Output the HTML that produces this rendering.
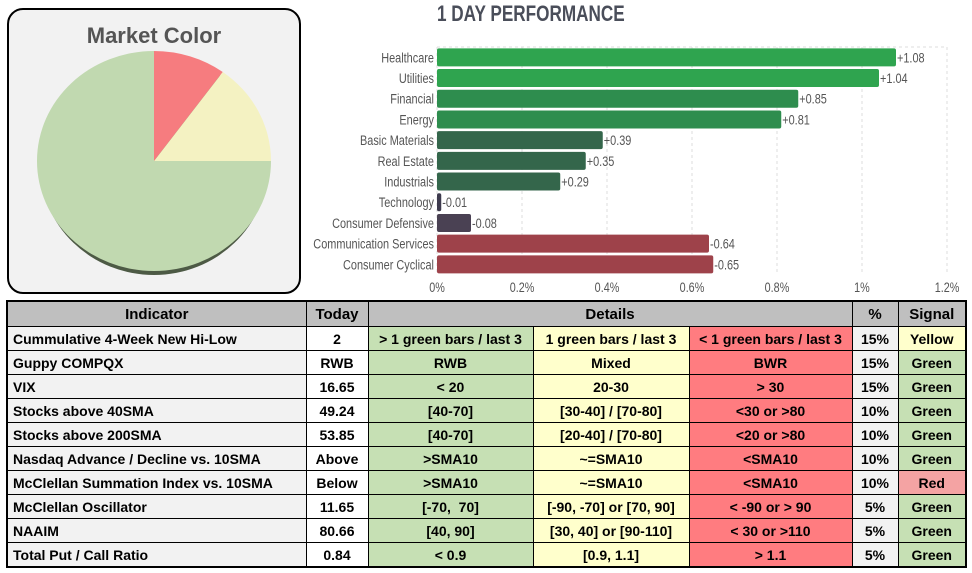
<!DOCTYPE html>
<html><head><meta charset="utf-8">
<style>
body{margin:0;width:972px;height:573px;background:#fff;overflow:hidden;position:relative;font-family:"Liberation Sans",sans-serif}
#mc{position:absolute;left:7px;top:8px;width:294px;height:286px;border:2px solid #000;border-radius:16px;background:#f2f2f2;box-sizing:border-box}
#mc-title{position:absolute;left:0;width:100%;top:13px;text-align:center;font-weight:bold;font-size:22px;color:#555}
table{position:absolute;left:6px;top:300px;border-collapse:collapse;table-layout:fixed;font-weight:bold;font-size:14px;color:#000}
td,th{border:1px solid #000;padding:0 4px;height:23px;white-space:nowrap;overflow:hidden;text-align:center}
th{background:#bfbfbf;height:24px;font-size:15px}
td.ind{background:#f2f2f2;text-align:left;padding-left:5px}
td.tod{background:#fff}
.g{background:#c6e0b4}.y{background:#ffffcc}.r{background:#ff7c80}.p{background:#f2f2f2}.rs{background:#f4a3a3}
table{border:2px solid #000}
</style></head><body>
<div id="mc">
<div id="mc-title">Market Color</div>
<svg id="pie" width="294" height="286" style="position:absolute;left:-2px;top:-2px"></svg>
</div>
<svg id="bar" width="672" height="300" style="position:absolute;left:300px;top:0"></svg>
<table>
<colgroup><col style="width:299px"><col style="width:62px"><col style="width:165px"><col style="width:156px"><col style="width:163px"><col style="width:46px"><col style="width:68px"></colgroup>
<tr><th>Indicator</th><th>Today</th><th colspan="3">Details</th><th>%</th><th>Signal</th></tr>
<tr><td class="ind">Cummulative 4-Week New Hi-Low</td><td class="tod">2</td><td class="g">&gt; 1 green bars / last 3</td><td class="y">1 green bars / last 3</td><td class="r">&lt; 1 green bars / last 3</td><td class="p">15%</td><td class="y">Yellow</td></tr>
<tr><td class="ind">Guppy COMPQX</td><td class="tod">RWB</td><td class="g">RWB</td><td class="y">Mixed</td><td class="r">BWR</td><td class="p">15%</td><td class="g">Green</td></tr>
<tr><td class="ind">VIX</td><td class="tod">16.65</td><td class="g">&lt; 20</td><td class="y">20-30</td><td class="r">&gt; 30</td><td class="p">15%</td><td class="g">Green</td></tr>
<tr><td class="ind">Stocks above 40SMA</td><td class="tod">49.24</td><td class="g">[40-70]</td><td class="y">[30-40] / [70-80]</td><td class="r">&lt;30 or &gt;80</td><td class="p">10%</td><td class="g">Green</td></tr>
<tr><td class="ind">Stocks above 200SMA</td><td class="tod">53.85</td><td class="g">[40-70]</td><td class="y">[20-40] / [70-80]</td><td class="r">&lt;20 or &gt;80</td><td class="p">10%</td><td class="g">Green</td></tr>
<tr><td class="ind">Nasdaq Advance / Decline vs. 10SMA</td><td class="tod">Above</td><td class="g">&gt;SMA10</td><td class="y">~=SMA10</td><td class="r">&lt;SMA10</td><td class="p">10%</td><td class="g">Green</td></tr>
<tr><td class="ind">McClellan Summation Index vs. 10SMA</td><td class="tod">Below</td><td class="g">&gt;SMA10</td><td class="y">~=SMA10</td><td class="r">&lt;SMA10</td><td class="p">10%</td><td class="rs">Red</td></tr>
<tr><td class="ind">McClellan Oscillator</td><td class="tod">11.65</td><td class="g">[-70,&nbsp; 70]</td><td class="y">[-90, -70] or [70, 90]</td><td class="r">&lt; -90 or &gt; 90</td><td class="p">5%</td><td class="g">Green</td></tr>
<tr><td class="ind">NAAIM</td><td class="tod">80.66</td><td class="g">[40, 90]</td><td class="y">[30, 40] or [90-110]</td><td class="r">&lt; 30 or &gt;110</td><td class="p">5%</td><td class="g">Green</td></tr>
<tr><td class="ind">Total Put / Call Ratio</td><td class="tod">0.84</td><td class="g">&lt; 0.9</td><td class="y">[0.9, 1.1]</td><td class="r">&gt; 1.1</td><td class="p">5%</td><td class="g">Green</td></tr>
</table>
<script>
const pieLabels=["Red","Yellow","Green"];
const pieValues=[10,15,75];
const pieColors=["#f67c7f","#f4f2c2","#c1d9b0"];
const sectors=["Healthcare","Utilities","Financial","Energy","Basic Materials","Real Estate","Industrials","Technology","Consumer Defensive","Communication Services","Consumer Cyclical"];
const perf=[1.08,1.04,0.85,0.81,0.39,0.35,0.29,-0.01,-0.08,-0.64,-0.65];
const ticks=[0,0.2,0.4,0.6,0.8,1,1.2];
const tickLabels=["0%","0.2%","0.4%","0.6%","0.8%","1%","1.2%"];
const NS="http://www.w3.org/2000/svg";
function mk(p,t,a){const e=document.createElementNS(NS,t);for(const k in a)e.setAttribute(k,a[k]);p.appendChild(e);return e;}
// pie
const pie=document.getElementById('pie');
const pcx=147,pcy=153,RX=117,RY=110;
mk(pie,'ellipse',{cx:pcx,cy:pcy+4,rx:RX-3,ry:RY,fill:'#4d5a45'});
const tot=pieValues.reduce((a,b)=>a+b,0);let ang=0;
pieValues.forEach((v,i)=>{const a0=ang,a1=ang+v/tot*2*Math.PI;ang=a1;
const px0=pcx+RX*Math.sin(a0),py0=pcy-RY*Math.cos(a0),px1=pcx+RX*Math.sin(a1),py1=pcy-RY*Math.cos(a1);
const s=mk(pie,'path',{d:`M${pcx},${pcy}L${px0},${py0}A${RX},${RY} 0 ${a1-a0>Math.PI?1:0} 1 ${px1},${py1}Z`,fill:pieColors[i]});

});
// bars
const svg=document.getElementById('bar');
const ax0=137,ax1=647,plotTop=47,rowH=20.7;
const xs=v=>ax0+v/1.2*(ax1-ax0);
const tt=mk(svg,'text',{x:137,y:21,'font-size':'22','font-weight':'bold',fill:'#4a4e5a',transform:'translate(137,0) scale(0.78,1) translate(-137,0)'});
tt.textContent='1 DAY PERFORMANCE';

mk(svg,'line',{x1:ax0,x2:ax1,y1:plotTop,y2:plotTop,stroke:'#ddd','stroke-dasharray':'3,3'});
ticks.forEach((t,i)=>{const x=xs(t);
mk(svg,'line',{x1:x,x2:x,y1:plotTop,y2:plotTop+rowH*11,stroke:'#ddd','stroke-dasharray':'3,3'});
const l=mk(svg,'text',{x:x,y:292,'font-size':'13.5',fill:'#555','text-anchor':'middle',transform:`translate(${x},0) scale(0.8,1) translate(${-x},0)`});
l.textContent=tickLabels[i];
});
function col(v){if(v>=0.8)return v>=1?'#2fa44f':'#2e8d4e';if(v>=0.2)return '#34664b';if(v>-0.3)return v>-0.05?'#3d3a4d':'#4a4153';return '#9e424a';}
sectors.forEach((s,i)=>{const v=perf[i],cyb=plotTop+rowH*i+rowH/2,w=Math.max(xs(Math.abs(v))-ax0,2);
const r=mk(svg,'rect',{x:ax0,y:cyb-9,width:w,height:18,rx:2,fill:col(v)});

const lb=mk(svg,'text',{x:ax0-3,y:cyb+5,'font-size':'14','font-weight':'500',fill:'#555','text-anchor':'end',transform:`translate(${ax0-3},0) scale(0.78,1) translate(${-(ax0-3)},0)`});
lb.textContent=s;
const vx=ax0+w+1;
const vl=mk(svg,'text',{x:vx,y:cyb+5,'font-size':'14',fill:'#555',transform:`translate(${vx},0) scale(0.78,1) translate(${-vx},0)`});
vl.textContent=(v>=0?'+':'')+v.toFixed(2);});
</script>
</body></html>
